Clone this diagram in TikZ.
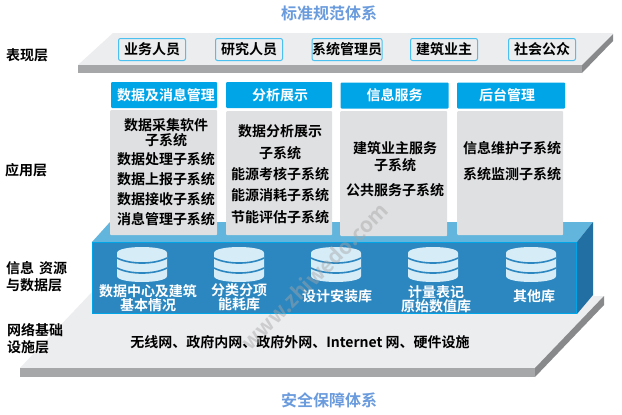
\documentclass[tikz,border=0pt]{standalone}
\usepackage{fontspec}
\setmainfont{Noto Sans CJK SC}[BoldFont={* Bold}]
\definecolor{plate}{HTML}{ECEDEF}
\definecolor{platefront}{HTML}{A6A7A9}
\definecolor{plateside}{HTML}{88898B}
\definecolor{cyanh}{HTML}{00A5E8}
\definecolor{bodyg}{HTML}{DFE0E2}
\definecolor{boxf}{HTML}{2C87C0}
\definecolor{boxt}{HTML}{62B5DC}
\definecolor{boxs}{HTML}{226FA3}
\definecolor{cyl}{HTML}{D6ECF7}
\definecolor{ttl}{HTML}{6A9BDD}
\tikzset{
  x=1pt,y=-1pt,
  cjk/.style={font=\fontsize{14}{16}\selectfont\bfseries,text=black,inner sep=0pt,align=center},
  layer/.style={cjk,anchor=west,align=left},
  titlet/.style={font=\fontsize{16}{18}\selectfont\bfseries,text=ttl,inner sep=0pt},
  role/.style={cjk,draw=cyanh!70,line width=1pt,rounded corners=2pt,fill=plate,minimum width=67pt,minimum height=22pt},
  headbox/.style={fill=cyanh,rounded corners=1pt,font=\fontsize{14}{16}\selectfont\bfseries,text=white,inner sep=0pt,minimum height=26pt},
  bodybox/.style={fill=bodyg,rounded corners=1pt,inner sep=0pt,anchor=north west},
  dbt/.style={font=\fontsize{14}{14}\selectfont\bfseries,text=white,inner sep=0pt,align=center},
}
\newcommand{\dbcyl}[1]{%
  \fill[cyl] (#1-25,253) -- (#1-25,276) .. controls (#1-25,284) and (#1+25,284) .. (#1+25,276) -- (#1+25,253) .. controls (#1+25,245) and (#1-25,245) .. (#1-25,253) -- cycle;
  \draw[boxf,line width=1.6pt] (#1-25,258) .. controls (#1-12,264.7) and (#1+12,264.7) .. (#1+25,258);
  \draw[boxf,line width=1.6pt] (#1-25,268) .. controls (#1-12,274.7) and (#1+12,274.7) .. (#1+25,268);
}
\begin{document}
\begin{tikzpicture}
\useasboundingbox (0,0) rectangle (622,415);
\fill[white] (0,0) rectangle (622,415);
% titles
\node[titlet] (ttop) at (329,13) {标准规范体系};
\node[titlet] (tbot) at (329,400) {安全保障体系};
% top plate
\fill[plate] (113,33) -- (613,33) -- (582,65) -- (78,65) -- cycle;
\fill[platefront] (78,65) rectangle (582,73);
\fill[plateside] (582,65) -- (613,34) -- (613,41) -- (582,73) -- cycle;
\node[role] (r1) at (152,49.5) {业务人员};
\node[role] (r2) at (249,49.5) {研究人员};
\node[role] (r3) at (347,49.5) {系统管理员};
\node[role] (r4) at (444,49.5) {建筑业主};
\node[role] (r5) at (542,49.5) {社会公众};
% bottom plate
\fill[plate] (92,292) -- (92,296) -- (604,296) -- (535,368) -- (20,368) -- cycle;
\fill[platefront] (20,368) rectangle (535,377);
\fill[plateside] (535,368) -- (604,296) -- (604,305) -- (535,377) -- cycle;
% layer labels
\node[layer] (l1) at (6,55) {表现层};
\node[layer] (l2) at (5,170) {应用层};
\node[layer] (l3) at (6,277) {信息\hspace{5pt}资源\\[1pt]与数据层};
\node[layer] (l4) at (7,339) {网络基础\\[1pt]设施层};
% data box
\fill[boxt] (110,222) -- (593,222) -- (577,242) -- (92,242) -- cycle;
\fill[boxs] (577,242) -- (593,222) -- (593,295) -- (577,314) -- cycle;
\fill[boxf] (92,242) rectangle (577,314);
\draw[cyanh,line width=1pt] (92.5,242.5) rectangle (576.5,313.5);
% columns
\node[bodybox,minimum width=107pt,minimum height=125pt] (b1) at (110,110) {};
\node[bodybox,minimum width=106pt,minimum height=124pt] (b2) at (226,111) {};
\node[bodybox,minimum width=107pt,minimum height=125pt] (b3) at (340,111) {};
\node[bodybox,minimum width=106pt,minimum height=124pt] (b4) at (457,111) {};
\node[headbox,minimum width=106pt] (h1) at (164,95) {\hspace*{4pt}数据及消息管理};
\node[headbox,minimum width=106pt] (h2) at (279,95) {\hspace*{2pt}分析展示};
\node[headbox,minimum width=108pt] (h3) at (394.5,95.5) {信息服务};
\node[headbox,minimum width=108pt] (h4) at (511,95.5) {后台管理\hspace*{8pt}};
% column 1 text
\node[cjk] (c11) at (166,125) {数据采集软件};
\node[cjk] (c12) at (166,140) {子系统};
\node[cjk] (c13) at (166,159) {数据处理子系统};
\node[cjk] (c14) at (166,179) {数据上报子系统};
\node[cjk] (c15) at (166,199) {数据接收子系统};
\node[cjk] (c16) at (166,219) {消息管理子系统};
% column 2 text
\node[cjk] (c21) at (280,131) {数据分析展示};
\node[cjk] (c22) at (280,153) {子系统};
\node[cjk] (c23) at (280,174) {能源考核子系统};
\node[cjk] (c24) at (280,195) {能源消耗子系统};
\node[cjk] (c25) at (280,217) {节能评估子系统};
% column 3 text
\node[cjk] (c31) at (395,148) {建筑业主服务};
\node[cjk] (c32) at (395,165) {子系统};
\node[cjk] (c33) at (395,190) {公共服务子系统};
% column 4 text
\node[cjk] (c41) at (512,148) {信息维护子系统};
\node[cjk] (c42) at (512,174) {系统监测子系统};
% cylinders
\dbcyl{142}
\dbcyl{239}
\dbcyl{336}
\dbcyl{433}
\dbcyl{531}
% db labels
\node[dbt] (d1) at (148,298.5) {数据中心及建筑\\基本情况};
\node[dbt] (d2) at (239,297.5) {分类分项\\能耗库};
\node[dbt] (d3) at (337,296) {设计安装库};
\node[dbt] (d4) at (436,299) {计量表记\\原始数值库};
\node[dbt] (d5) at (534,296) {其他库};
% network
\node[cjk] (n1) at (300,342) {无线网、政府内网、政府外网、Internet 网、硬件设施};
% watermark
\node[font=\fontsize{21}{22}\selectfont\bfseries,text=gray!70,opacity=.45,rotate=45,inner sep=0pt] (wm) at (314.5,276) {www.zhiwedo.com};
\end{tikzpicture}
\end{document}
